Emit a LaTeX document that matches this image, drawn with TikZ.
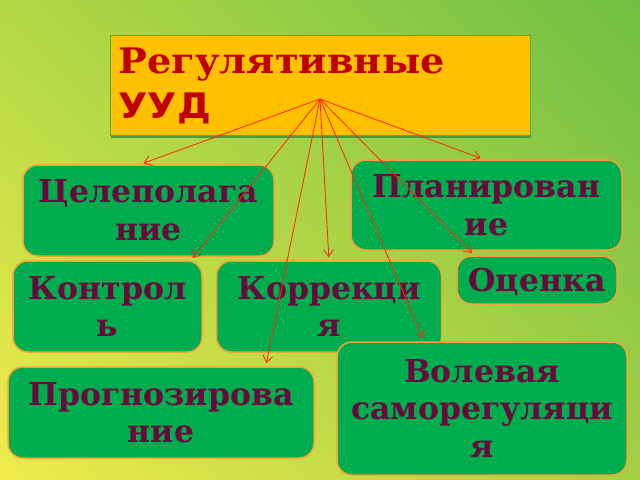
\documentclass[tikz,border=0pt]{standalone}
\usepackage{fontspec}
\setmainfont{DejaVu Serif}
\newfontfamily\titleserif{DejaVu Serif}[BoldFont={DejaVu Serif Bold}, FakeStretch=1.09]
\newfontfamily\titlesans{DejaVu Sans}[BoldFont={DejaVu Sans Bold}, FakeStretch=1.08]
\usetikzlibrary{arrows.meta, positioning, calc, shadings, shadows}
\newdimen\pix
\pix=0.025cm
\definecolor{bgUL}{HTML}{B3D846}
\definecolor{bgUR}{HTML}{70BF44}
\definecolor{bgLL}{HTML}{F0EB4B}
\definecolor{bgLR}{HTML}{A4CF45}
\definecolor{titlefill}{HTML}{FFC000}
\definecolor{titleline}{HTML}{3CB54A}
\definecolor{titleshadow}{HTML}{2F8F3C}
\definecolor{titletext}{HTML}{C00000}
\definecolor{boxgreen}{HTML}{00AD4E}
\definecolor{boxline}{HTML}{F5A135}
\definecolor{boxtext}{HTML}{6A0A3C}
\definecolor{linkred}{HTML}{FF2A10}
\tikzstyle{uud} = [rectangle, draw=titleline, line width=1.2\pix, fill=titlefill, text=titletext, font=\bfseries\fontsize{25}{32}\selectfont, align=left, inner xsep=8\pix, inner ysep=0pt, text width=404\pix, minimum width=420\pix, minimum height=100\pix, anchor=north west, drop shadow={shadow xshift=0.6pt, shadow yshift=-1.4pt, fill=titleshadow, opacity=0.8}]
\tikzstyle{box} = [rectangle, rounded corners=15\pix, draw=boxline, line width=1.5\pix, fill=boxgreen, text=boxtext, font=\bfseries\fontsize{22.4}{27}\selectfont, align=center, inner sep=0pt, text depth=-6\pix]
\tikzstyle{arrow} = [draw=linkred, line width=0.6pt, -{Straight Barb[length=5pt,width=7pt]}, shorten >=3\pix]

\begin{document}
\begin{tikzpicture}[x=0.025cm, y=-0.025cm]
\useasboundingbox (0,0) rectangle (640,480);
\shade [upper left=bgUL, upper right=bgUR, lower left=bgLL, lower right=bgLR] (0,0) rectangle (640,480);

\node [uud] (title) at (110,35) {{\titleserif Регулятивные}\\{\titlesans УУД}};
\coordinate (hub) at (320,99);

\node [box, minimum width=251\pix, minimum height=91\pix] (cel) at (148.5,210.5) {Целеполага\\ние};
\node [box, minimum width=271\pix, minimum height=90\pix] (plan) at (486.5,205) {Планирован\\ие};
\node [box, minimum width=189\pix, minimum height=91\pix] (kontrol) at (107.5,306.5) {Контрол\\ь};
\node [box, minimum width=225\pix, minimum height=91\pix] (korr) [right=0.325cm of kontrol] {Коррекци\\я};
\node [box, minimum width=160\pix, minimum height=48\pix] (ocenka) at (537,280) {Оценка};
\node [box, minimum width=290\pix, minimum height=133\pix] (volev) at (482,408.5) {Волевая\\саморегуляци\\я};
\node [box, minimum width=306\pix, minimum height=91\pix] (prog) at (161,412.5) {Прогнозирова\\ние};

% links from the title
\draw [arrow] (hub) -- ($(cel.north)+(-8,0)$);
\draw [arrow] (hub) -- ($(plan.north)+(-3,0)$);
\draw [arrow] (hub) -- ($(kontrol.north east)+(-12,0)$);
\draw [arrow] (hub) -- (korr.north);
\draw [arrow] (hub) -- ($(ocenka.north west)+(18,0)$);
\draw [arrow] (hub) -- ($(volev.north west)+(88,0)$);
\draw [arrow] (hub) -- ($(prog.north east)+(-49,0)$);
\end{tikzpicture}
\end{document}
